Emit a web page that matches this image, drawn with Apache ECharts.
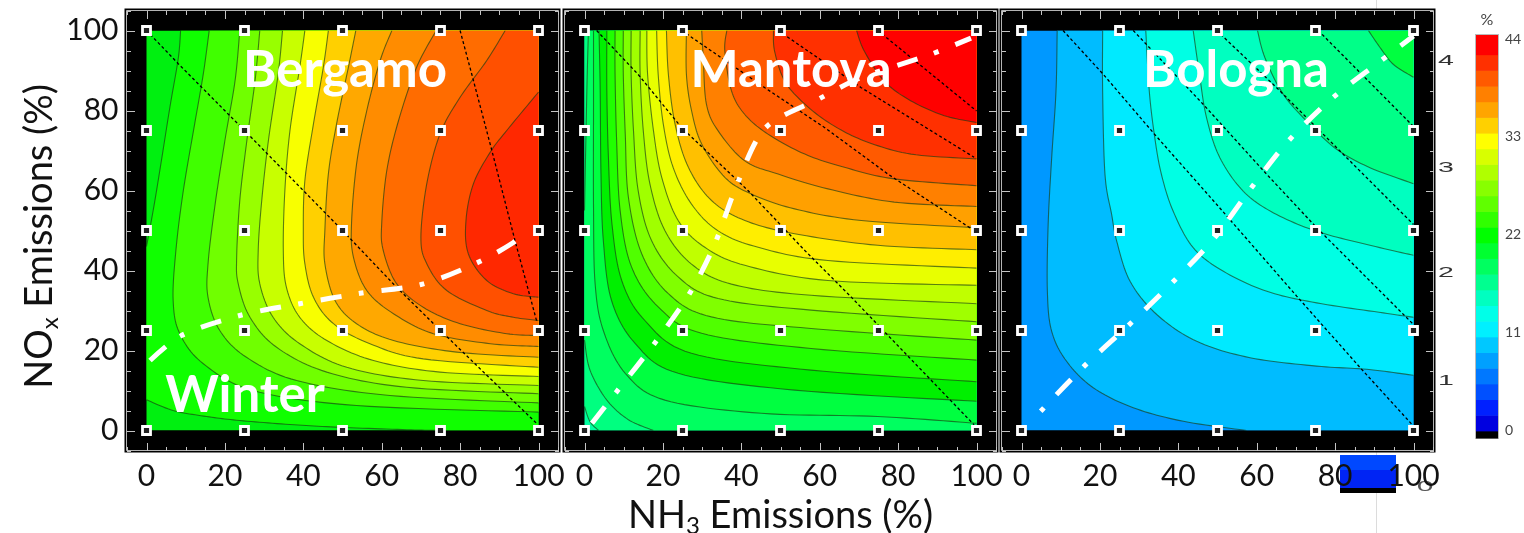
<!DOCTYPE html>
<html><head><meta charset="utf-8">
<style>html,body{margin:0;padding:0;background:#fff}#c{width:1524px;height:533px}</style>
<script src="https://cdn.jsdelivr.net/npm/echarts@6/dist/echarts.min.js"></script>
</head><body><div id="c"></div>
<script>
// ---------- values (x %, y %) ----------
const tickLabels = [0, 20, 40, 60, 80, 100];
const tickMinor = [-5,5,10,15,25,30,35,45,50,55,65,70,75,85,90,95,105];
const sitePositions = [0, 25, 50, 75, 100];
const panelNames = ['Bergamo', 'Mantova', 'Bologna'];

const bergamoBase = '#00f010';
const bergamoFills = ['#10ff00','#40ff00','#70ff00','#98ff00','#c8ff00','#f8ff00','#ffd000','#ffa800','#ff8c00','#ff6c00','#ff5000','#ff2800'];
const bergamoClosures = [[[100,0],[100,100]],[[100,100]],[[100,100]],[[100,100]],[[100,100]],[[100,100]],[[100,100]],[[100,100]],[[100,100]],[[100,100]],[[100,100]],[]];
const bergamoContours = [
 [[8.7,100],[8.1,93],[6,81],[3.4,65],[1.7,55],[0,46],null,[0,7.7],[6.8,5],[15.3,3.5],[23.8,2.5],[36.6,1.5],[49.4,.8],[66.4,.2],[75,0]],
 [[16,100],[14.5,89.2],[12.3,76.7],[9.4,60],[7.5,45],[6.8,32.5],[8.5,24.2],[14.5,16.7],[27.2,10],[53.6,6.25],[100,4.6]],
 [[23.8,100],[22.6,87.5],[20,72.5],[17.4,55.8],[15.7,41.7],[15.7,33.3],[18.7,25],[25.5,18.3],[38.3,12.5],[62.1,8.75],[100,6.9]],
 [[28.9,100],[27.7,87.5],[25.5,71.7],[23.8,57.5],[23,43.3],[23.4,36.7],[26.4,28.3],[33.2,20.8],[46,14.6],[66.4,10.8],[100,9.2]],
 [[34.7,100],[33.6,89.2],[31.1,72.5],[29.4,57.5],[28.5,45],[28.9,36.7],[32.3,28.3],[39.1,21.7],[51.1,15.8],[70.6,12.5],[100,11.25]],
 [[40.4,100],[39.1,90.8],[36.6,75],[35.3,60],[34.9,45],[35.7,35.8],[39.1,28.3],[46,22.5],[57.9,17.5],[74.9,14.6],[100,13.5]],
 [[46.4,100],[45.1,90.8],[42.6,76.7],[40.4,62.5],[40,50],[40.4,41.7],[42.6,33.3],[47.7,26.7],[57,21.7],[70.6,17.9],[100,15.8]],
 [[53.4,100],[51.5,90.8],[48.5,76.7],[46.4,64.2],[45.5,50],[45.5,41.7],[48.1,32.5],[53.6,26.7],[63,22.5],[79.1,19.6],[100,18.3]],
 [[62.6,100],[59.6,92.5],[56.2,80],[53.6,66.7],[52.3,51.7],[52.8,43.3],[56.2,35],[63,29.2],[73.2,24.2],[87.7,21.7],[100,21]],
 [[73.9,100],[68.9,90.8],[64.3,77.5],[61.3,65],[60,51.7],[60.4,45],[63.8,36.7],[70.6,30.8],[80,26.7],[91.9,24.2],[100,23.75]],
 [[91.5,100],[86.8,92.5],[80,83.3],[74.9,74.2],[71.5,61.7],[70,48.3],[71.5,41.7],[76.6,35],[86.8,30],[93.6,28.3],[100,27.5]],
 [[100,84.6],[91.9,75],[87.7,69.6],[83.4,61.7],[81.5,52.5],[82.1,44.2],[86.8,37.5],[93.6,34.2],[100,33.3]]
];
const bergamoDashed = [
 [[0,100],[8.1,91.7],[25,75],[50,50],[63.8,35.8],[75,25],[99.6,1.7]],
 [[80,100],[83.4,87.5],[88.1,70],[94,47.5],[99.6,27.1]]
];
const bergamoRidge = [[.9,17.5],[8.9,23.75],[23.8,28.75],[39.1,31.7],[54.5,34.3],[70,36.5],[84.3,41.9],[93.6,47],[97,50]];

const mantovaBase = '#00ffa0';
const mantovaFills = ['#00ff80','#00ff60','#00ff40','#00f000','#20ff00','#50ff00','#80ff00','#a0ff00','#c0ff00','#e8ff00','#ffee00','#ffc000','#ffa000','#ff8000','#ff5a00','#ff3000','#ff0000'];
const mantovaClosures = [[[100,0],[100,100],[0,100]],[[100,0],[100,100]],[[100,100]],[[100,100]],[[100,100]],[[100,100]],[[100,100]],[[100,100]],[[100,100]],[[100,100]],[[100,100]],[[100,100]],[[100,100]],[[100,100]],[[100,100]],[[100,100]],[[100,100]]];
const mantovaContours = [
 [[0,6],[1.4,2.2],[3.6,0]],
 [[1,100],[.6,84.9],[0,55],null,[0,22.6],[1.4,15.1],[5.7,7.6],[11.2,2.7],[17.6,0]],
 [[2.3,100],[2.3,81],[2.3,55.8],[2.7,36.8],[4.8,25],[10.4,14.3],[20.5,7.6],[45.1,4.3],[74.8,3.5],[100,1.8]],
 [[3.7,100],[4,84.9],[4.2,64.1],[4.8,47.5],[6.9,32.5],[12.9,21.8],[23.9,14.3],[53.6,10.1],[100,7.3]],
 [[5.7,100],[5.7,84.9],[6.1,68.3],[7,51.7],[9.5,37.5],[15.4,27.5],[27.3,19.3],[57.8,15.1],[100,12.2]],
 [[7.8,100],[7.8,89],[8.2,72.4],[9.1,54.9],[12,40.9],[18.8,30.9],[29.9,24.3],[57.8,20.5],[100,17.6]],
 [[9.9,100],[9.9,89],[10.4,74.1],[11.2,58.3],[14.6,44.2],[21.4,34.2],[32.4,28.4],[57.8,25.5],[100,22.6]],
 [[11.9,100],[11.9,89],[12.5,74.9],[13.7,59.9],[17.1,47.5],[23.9,38.4],[34.1,33],[57.8,30.1],[100,27.2]],
 [[14.2,100],[14.2,89],[15,74.9],[16.7,61.6],[20.5,50],[27.3,41.6],[37.5,36.6],[57.8,33.8],[100,31.7]],
 [[15.9,100],[16.1,89],[17.6,74.9],[19.7,63.3],[23.9,52.5],[30.7,45.8],[40.9,41.3],[62.1,37.5],[100,36.3]],
 [[18.4,100],[18.8,89],[20.1,76.6],[22.6,65.8],[27.3,56.6],[34.1,49.9],[44.3,45.8],[62.1,42.5],[100,40.6]],
 [[20.9,100],[21.4,89],[23.1,76.6],[26.5,65.8],[32.4,57.5],[40.9,52.5],[53.6,49.2],[74.8,46.3],[100,45.2]],
 [[26,100],[26,89],[27.3,80],[29.9,71.6],[35.8,63.3],[42.6,59.1],[53.6,55.4],[70.6,52.5],[100,50.7]],
 [[29.9,100],[30.3,93],[31.1,81.6],[34.1,74.9],[40.9,67.4],[49.4,64.1],[62.1,60.4],[79,57.1],[100,56]],
 [[36.3,100],[35.8,94.8],[37.5,84.9],[40.9,79],[46.8,74.1],[56.2,69.1],[66.3,65.8],[79,62.9],[100,61.2]],
 [[48.2,100],[48.5,94.8],[51.1,87.3],[56.2,81.6],[62.9,76.6],[71.4,72.4],[83.3,69.1],[100,67.9]],
 [[69.4,100],[71.4,94.8],[76.5,87.3],[83.3,82.4],[91.8,78.7],[100,77]]
];
const mantovaDashed = [
 [[3.1,100],[13.7,89],[24.8,75.7],[41.7,60],[56.2,45],[68,33.4],[77.4,23.8],[99.4,1.4]],
 [[24.8,100],[46,85.7],[61.3,75.7],[77.4,64.1],[99.4,50]],
 [[49.4,100],[70.6,85.7],[99.4,68.3]],
 [[74.8,100],[100,79.9]]
];
const mantovaRidge = [[1.9,1.8],[8.2,9.7],[17.8,21.7],[26.7,34.1],[33.1,46.3],[39.1,62],[46.2,75.7],[60,83],[70,88],[88.8,94.2],[98.6,98.1]];

const bolognaBase = '#0098ff';
const bolognaFills = ['#00bcff','#00eaff','#00ffe4','#00ffc0','#00ff88','#00ff40'];
const bolognaClosures = [[[100,0],[100,100]],[[100,100]],[[100,100]],[[100,100]],[[100,100]],[[100,100]]];
const bolognaContours = [
 [[9.1,100],[8.8,84.8],[7.7,68.2],[6.8,51.5],[6.6,34.8],[7.7,24.8],[11.5,17.3],[18.3,10.7],[28.5,5.7],[41.3,2.3],[57.4,0]],
 [[20.7,100],[20.7,84.8],[21.3,64],[23,54],[24.3,47.3],[27.7,37.3],[34.5,29],[44.7,22.3],[58.3,18.2],[75.3,16.1],[88.1,15.3],[100,13.8]],
 [[31.7,100],[32.6,84.8],[34,73.2],[35.7,64],[38.7,54.8],[43.8,45.7],[51.5,39.8],[62.6,34.8],[75.3,31.9],[92.3,29.4],[100,28.3]],
 [[43.8,100],[45.4,89],[47.2,78.2],[50.6,68.2],[56.6,59.8],[64.3,54.4],[75.3,49.8],[88.1,46.5],[100,43.8]],
 [[60.2,100],[62.1,93.2],[66.8,84],[73.6,76.5],[80.4,70.3],[88.9,65.7],[100,61.7]],
 [[88.5,100],[91.5,95.7],[94.9,91.5],[100,88.3]]
];
const bolognaDashed = [
 [[10.6,100],[20.9,89],[34,74],[49.8,56.5],[70.2,33.6],[86.4,15.7],[100,1.1]],
 [[28.5,100],[46.4,81.5],[62.6,64],[75.3,50.7],[100,26.5]],
 [[49.8,100],[65.1,85.7],[80.4,70.7],[100,51.5]],
 [[75.7,100],[100,76]]
];
const bolognaRidge = [[4.9,4.8],[15.8,15.9],[27.2,26.2],[38.5,37],[49.1,48],[58.5,60.5],[67.9,72.2],[79.2,83],[91.5,92.3],[100,98.6]];

const scaleEdges = [-0.8,0,1.76,3.52,5.28,7.04,8.8,10.56,12.32,14.08,15.84,17.6,19.36,21.12,22.88,24.64,26.4,28.16,29.92,31.68,33.44,35.2,36.96,38.72,40.48,42.24,44.45];
const scaleColors = ['#000000','#0000e0','#0020ff','#0050ff','#0078ff','#00a0ff','#00c8ff','#00f0ff','#00ffe8','#00ffc0','#00ff90','#00ff60','#00ff30','#00ff00','#30ff00','#60ff00','#88ff00','#b0ff00','#d8ff00','#ffff00','#ffd000','#ffa500','#ff8000','#ff5a00','#ff3000','#ff0000'];
const scaleTicks = [0, 11, 22, 33, 44];
const extraAxisDigits = ['4', '3', '2', '1'];

// ---------- layout ----------
const plotLeft = [146.5, 584.5, 1021.5], plotTop = 30.5, plotW = 392, plotH = 400;
const padPx = 20, padX = padPx / plotW * 100, padY = padPx / plotH * 100;
const panels = [
 {contours:bergamoContours, closures:bergamoClosures, fills:bergamoFills, base:bergamoBase, dashed:bergamoDashed, ridge:bergamoRidge, dash:[21,17.5,5,18]},
 {contours:mantovaContours, closures:mantovaClosures, fills:mantovaFills, base:mantovaBase, dashed:mantovaDashed, ridge:mantovaRidge, dash:[21,17.5,5,18]},
 {contours:bolognaContours, closures:bolognaClosures, fills:bolognaFills, base:bolognaBase, dashed:bolognaDashed, ridge:bolognaRidge, dash:[5,18,21,17.5]}
];

// Catmull-Rom drawing of a read contour in pixel space (same role as a smoothed line)
function spline(pts){
  const out=[]; const n=pts.length;
  for(let i=0;i<n-1;i++){
    const p0=pts[Math.max(i-1,0)],p1=pts[i],p2=pts[i+1],p3=pts[Math.min(i+2,n-1)];
    for(let k=0;k<12;k++){const t=k/12,t2=t*t,t3=t2*t;
      out.push([0,1].map(d=>.5*(2*p1[d]+(p2[d]-p0[d])*t+(2*p0[d]-5*p1[d]+4*p2[d]-p3[d])*t2+(3*p1[d]-p0[d]-3*p2[d]+p3[d])*t3)));}
  }
  out.push(pts[n-1]); return out;
}
function runsOf(c){const r=[];let cur=[];c.forEach(p=>{if(p){cur.push(p)}else{r.push(cur);cur=[]}});r.push(cur);return r;}

const grids=[],xAxes=[],yAxes=[],series=[];
const tickColor='#c4c4c4';
const labelStyle={show:true,customValues:tickLabels,color:'#111',fontFamily:'Lato',fontSize:30};
const subRich={sub:{fontSize:24,fontFamily:'Lato',color:'#111',padding:[22,0,0,0]}};
const allTicks=[].concat(tickLabels.map(v=>[v,8]),tickMinor.map(v=>[v,4]));
panels.forEach((p,i)=>{
  const frame=grids.length, plot=frame+1;
  grids.push({left:plotLeft[i]-padPx,top:plotTop-padPx,width:plotW+2*padPx,height:plotH+2*padPx,outerBoundsMode:'none',
    show:true,backgroundColor:'transparent',borderColor:'#b4b4b4',borderWidth:1});
  grids.push({left:plotLeft[i],top:plotTop,width:plotW,height:plotH,outerBoundsMode:'none'});
  const fxB=xAxes.length, fyL=yAxes.length;
  xAxes.push({type:'value',gridIndex:frame,position:'bottom',min:-padX,max:100+padX,
    axisLine:{show:false},axisTick:{show:false},splitLine:{show:false},
    axisLabel:Object.assign({},labelStyle,{margin:11}),
    name:i===1?'NH{sub|3} Emissions (%)':'',nameLocation:'middle',nameGap:40,
    nameTextStyle:{color:'#111',fontFamily:'Lato',fontSize:38,rich:subRich}});
  yAxes.push(Object.assign({type:'value',gridIndex:frame,position:'left',min:-padY,max:100+padY,
    axisLine:{show:false},axisTick:{show:false},splitLine:{show:false},
    axisLabel:i===0?Object.assign({},labelStyle,{margin:8}):{show:false}},
    i===0?{name:'NO{sub|x} Emissions (%)',nameLocation:'middle',nameGap:63,
      nameTextStyle:{color:'#111',fontFamily:'Lato',fontSize:38,padding:[0,12,0,0],rich:subRich}}:{}));
  const pxI=xAxes.length, pyI=yAxes.length;
  xAxes.push({type:'value',gridIndex:plot,min:0,max:100,show:false});
  yAxes.push({type:'value',gridIndex:plot,min:0,max:100,show:false});

  series.push({type:'custom',xAxisIndex:pxI,yAxisIndex:pyI,clip:true,z:2,silent:true,
    data:p.contours.map((c,k)=>[k,0]),
    renderItem:(params,api)=>{
      const k=params.dataIndex, px=q=>api.coord(q);
      const runs=runsOf(p.contours[k]).map(r=>spline(r.map(px)));
      const ring=[].concat(...runs, p.closures[k].map(px));
      const kids=[];
      if(k===0) kids.push({type:'polygon',shape:{points:[[0,0],[100,0],[100,100],[0,100]].map(px)},style:{fill:p.base}});
      kids.push({type:'polygon',shape:{points:ring},style:{fill:p.fills[k]}});
      runs.forEach(r=>kids.push({type:'polyline',shape:{points:r},style:{fill:'none',stroke:'rgba(25,60,20,0.66)',lineWidth:1.1}}));
      return {type:'group',children:kids};
    }});
  // frame ticks on all four sides, placed through the axes
  series.push({type:'custom',xAxisIndex:fxB,yAxisIndex:fyL,clip:false,z:3,silent:true,
    data:allTicks.map(t=>[t[0],t[1]]),
    encode:{x:0,y:1},
    renderItem:(params,api)=>{
      const v=allTicks[params.dataIndex][0], len=allTicks[params.dataIndex][1], a=api.coord([v,0]), b=api.coord([0,v]);
      const g0=api.coord([-padX,-padY]), g1=api.coord([100+padX,100+padY]);
      const rect=(x,y,w,h)=>({type:'rect',shape:{x:Math.round(x),y:Math.round(y),width:w,height:h},style:{fill:tickColor}});
      return {type:'group',children:[
        rect(a[0],g0[1]-len,1,len), rect(a[0],g1[1],1,len),
        rect(g0[0],b[1],len,1), rect(g1[0]-len,b[1],len,1)]};
    }});
  p.dashed.forEach(d=>series.push({type:'line',xAxisIndex:fxB,yAxisIndex:fyL,data:d,symbol:'none',z:3,silent:true,
    lineStyle:{color:'#000',width:1.3,type:[3,2.5]}}));
  series.push({type:'line',xAxisIndex:fxB,yAxisIndex:fyL,data:p.ridge,symbol:'none',smooth:.3,z:4,silent:true,
    lineStyle:{color:'#fff',width:5,type:p.dash,cap:'butt'}});
  const sites=[];sitePositions.forEach(x=>sitePositions.forEach(y=>sites.push([x,y])));
  series.push({type:'scatter',xAxisIndex:fxB,yAxisIndex:fyL,data:sites,symbol:'rect',symbolSize:8,z:5,silent:true,
    itemStyle:{color:'#222',borderColor:'#fff',borderWidth:2.8,opacity:1}});
});

// colour scale
const sg=grids.length, sx=xAxes.length, sy=yAxes.length;
grids.push({left:1476,top:35,width:22,height:403,outerBoundsMode:'none'});
xAxes.push({type:'value',gridIndex:sg,min:0,max:1,show:false});
yAxes.push({type:'value',gridIndex:sg,position:'right',min:scaleEdges[0],max:scaleEdges[scaleEdges.length-1],
  axisLine:{show:false},axisTick:{show:false},splitLine:{show:false},
  axisLabel:{show:true,customValues:scaleTicks,margin:7,color:'#444',fontFamily:'Lato',fontSize:14}});
series.push({type:'custom',xAxisIndex:sx,yAxisIndex:sy,z:2,silent:true,clip:false,
  data:scaleColors.map((c,i)=>[scaleEdges[i],scaleEdges[i+1]]),
  renderItem:(params,api)=>{
    const a=api.coord([0,api.value(0)]),b=api.coord([1,api.value(1)]);
    return {type:'rect',shape:{x:a[0],y:b[1],width:b[0]-a[0],height:a[1]-b[1]+.5},style:{fill:scaleColors[params.dataIndex]}};
  }});

// chrome drawn in pixels
const gfx=[];
gfx.push({type:'rect',z:-8,shape:{x:1376,y:0,width:1,height:533},style:{fill:'#dcdcdc'}});
plotLeft.forEach(l=>gfx.push({type:'rect',z:-5,shape:{x:l-padPx-2,y:plotTop-padPx-2,width:plotW+2*padPx+4,height:plotH+2*padPx+4},style:{fill:'#000'}}));
gfx.push({type:'rect',z:-6,shape:{x:1340,y:455,width:56,height:38},style:{fill:'#000'}});
gfx.push({type:'rect',z:-6,shape:{x:1340,y:455,width:56,height:33},style:{fill:'#0048ff'}});
gfx.push({type:'rect',z:-6,shape:{x:1340,y:470,width:56,height:18},style:{fill:'#0024f4'}});
gfx.push({type:'rect',z:-6,shape:{x:1475,y:34,width:24,height:405},style:{fill:'#bbb'}});
const titleFont={fontFamily:'Lato',fontWeight:'bold',fontSize:51,fill:'#fff',textAlign:'center',textVerticalAlign:'middle'};
[[panelNames[0],345,71],[panelNames[1],791,71],[panelNames[2],1236,71],['Winter',245,396]].forEach(t=>
  gfx.push({type:'text',z:20,x:t[1],y:t[2],style:Object.assign({text:t[0]},titleFont)}));
[61,168,273,381].forEach((y,i)=>gfx.push({type:'text',z:20,x:1446,y,scaleX:1.9,
  style:{text:extraAxisDigits[i],fontFamily:'Liberation Sans',fontSize:15,fill:'#333',textAlign:'center',textVerticalAlign:'middle'}}));
gfx.push({type:'text',z:-4,x:1425,y:487,scaleX:2,style:{text:'0',fontFamily:'Liberation Sans',fontSize:15,fill:'#555',textAlign:'center',textVerticalAlign:'middle'}});
gfx.push({type:'text',z:20,x:1487,y:20,style:{text:'%',fontFamily:'Lato',fontSize:16,fill:'#444',textAlign:'center',textVerticalAlign:'middle'}});

const chart=echarts.init(document.getElementById('c'),null,{renderer:'canvas'});
chart.setOption({animation:false,backgroundColor:'#fff',grid:grids,xAxis:xAxes,yAxis:yAxes,series,graphic:{elements:gfx}});
</script></body></html>
